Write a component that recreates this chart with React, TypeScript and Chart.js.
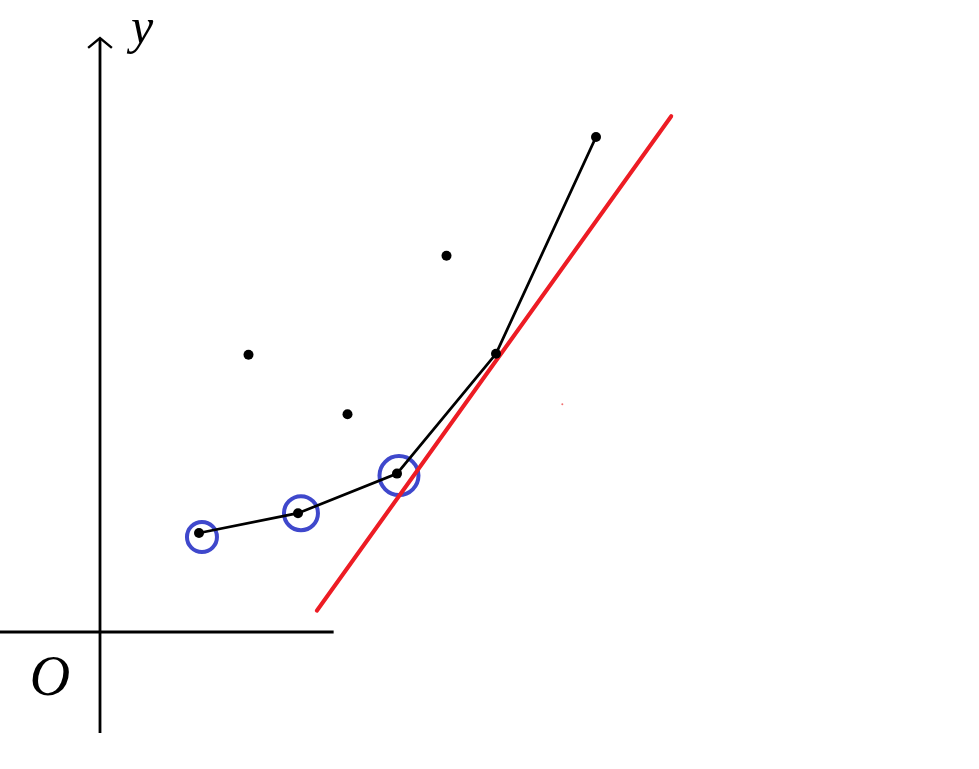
import React, { useEffect, useRef } from "react";
import { Chart, registerables } from "chart.js";

Chart.register(...registerables);

// Broken line through the sampled points
const pathX = [1, 2, 3, 4, 5.01];
const pathY = [1.0, 1.2, 1.6, 2.81, 5.0];
// Scattered points off the path
const dotX = [1.5, 2.5, 3.5];
const dotY = [2.8, 2.2, 3.8];
// Circled points
const ringX = [1.03, 2.03, 3.02];
const ringY = [0.96, 1.2, 1.58];
const ringR = [15, 17, 19.5];
// Red line endpoints
const redX = [2.19, 5.77];
const redY = [0.215, 5.21];
// Tiny red speck
const speckX = [4.67];
const speckY = [2.3];
// Axis extents
const xAxisX = [-1.02, 2.36];
const yAxisY = [-1.02, 6.0];
const arrowX = [-0.12, 0, 0.12];
const arrowY = [5.9, 6.0, 5.9];

const X_MIN = -100 / 99;
const X_MAX = (979 - 100) / 99;
const Y_MIN = -(769 - 632) / 99;
const Y_MAX = 632 / 99;

const zip = (xs: number[], ys: number[]) => xs.map((x, i) => ({ x, y: ys[i] }));

const labelsPlugin = {
  id: "mathLabels",
  afterDatasetsDraw(chart: any) {
    const ctx = chart.ctx;
    const xs = chart.scales.x;
    const ys = chart.scales.y;
    const ox = xs.getPixelForValue(0);
    const oy = ys.getPixelForValue(0);
    ctx.save();
    ctx.fillStyle = "#000";
    ctx.textAlign = "center";
    ctx.textBaseline = "alphabetic";
    ctx.font = "italic 50px 'Liberation Serif'";
    ctx.fillText("y", ox + 42, ys.getPixelForValue(6.0) + 5);
    ctx.font = "italic 56px 'Liberation Serif'";
    ctx.fillText("O", ox - 50, oy + 63);
    ctx.restore();
  },
};

export default function App() {
  const ref = useRef<HTMLCanvasElement>(null);
  useEffect(() => {
    if (!ref.current) return;
    const chart = new Chart(ref.current, {
      type: "scatter",
      data: {
        datasets: [
          {
            label: "path",
            data: zip(pathX, pathY),
            showLine: true,
            borderColor: "#000",
            backgroundColor: "#000",
            borderWidth: 2.8,
            pointRadius: 5,
            pointBorderWidth: 0,
            order: 1,
          },
          {
            label: "dots",
            data: zip(dotX, dotY),
            showLine: false,
            backgroundColor: "#000",
            borderColor: "#000",
            pointRadius: 5,
            pointBorderWidth: 0,
            order: 1,
          },
          {
            label: "red",
            data: zip(redX, redY),
            showLine: true,
            borderColor: "#ed1c24",
            borderWidth: 4,
            borderCapStyle: "round",
            pointRadius: 0,
            order: 2,
          },
          {
            label: "rings",
            data: zip(ringX, ringY),
            showLine: false,
            backgroundColor: "rgba(0,0,0,0)",
            borderColor: "#3f48cc",
            pointBorderColor: "#3f48cc",
            pointBorderWidth: 4,
            pointRadius: ringR,
            order: 3,
          },
          {
            label: "speck",
            data: zip(speckX, speckY),
            showLine: false,
            backgroundColor: "#f07070",
            pointRadius: 1,
            pointBorderWidth: 0,
            order: 3,
          },
          {
            label: "xaxis",
            data: zip(xAxisX, [0, 0]),
            showLine: true,
            borderColor: "#000",
            borderWidth: 2.8,
            pointRadius: 0,
            order: 4,
          },
          {
            label: "yaxis",
            data: zip([0, 0], yAxisY),
            showLine: true,
            borderColor: "#000",
            borderWidth: 2.8,
            pointRadius: 0,
            order: 4,
          },
          {
            label: "arrow",
            data: zip(arrowX, arrowY),
            showLine: true,
            borderColor: "#000",
            borderWidth: 2.4,
            pointRadius: 0,
            order: 4,
          },
        ],
      } as any,
      options: {
        animation: false,
        responsive: false,
        devicePixelRatio: 1,
        layout: { padding: 0, autoPadding: false },
        plugins: {
          legend: { display: false },
          tooltip: { enabled: false },
        },
        scales: {
          x: { type: "linear", min: X_MIN, max: X_MAX, display: false },
          y: { type: "linear", min: Y_MIN, max: Y_MAX, display: false },
        },
      } as any,
      plugins: [labelsPlugin],
    });
    return () => chart.destroy();
  }, []);
  return (
    <div style={{ position: "fixed", left: 0, top: 0, width: 979, height: 769, background: "#fff" }}>
      <canvas ref={ref} width={979} height={769} style={{ width: 979, height: 769, display: "block" }} />
    </div>
  );
}
